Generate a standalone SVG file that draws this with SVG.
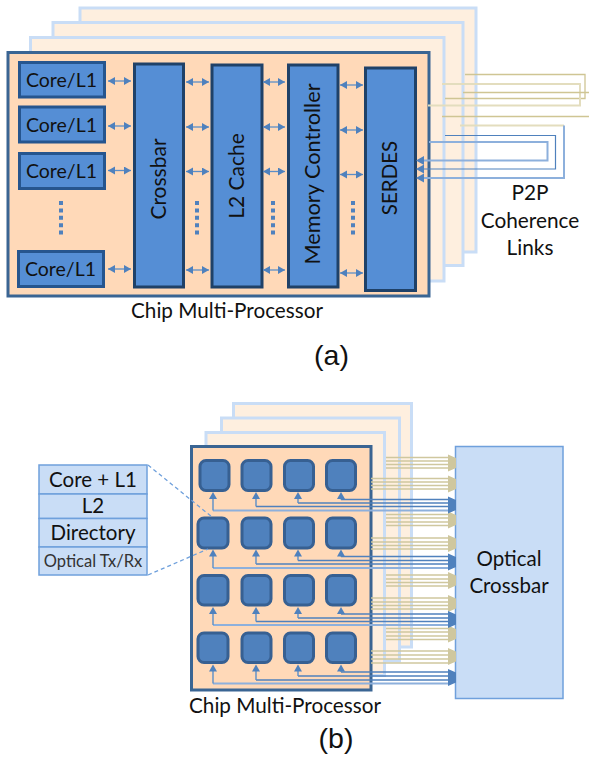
<svg xmlns="http://www.w3.org/2000/svg" width="589" height="760" viewBox="0 0 589 760">
<style>
text{font-family:Lato,"Noto Sans","Liberation Sans",sans-serif;fill:#111;text-anchor:middle}
.sheet{fill:#FEEFDF;stroke:#C9DDF6;stroke-width:3}
.main{fill:#FFD9B8;stroke:#3A6593;stroke-width:3}
.blk{fill:#558ED5;stroke:#1F4168;stroke-width:3}
.core{fill:#558ED5;stroke:#26558E;stroke-width:3}
.tile{fill:#4F81BD;stroke:#376092;stroke-width:3}
.t20{font-size:20.500px}
.t19{font-size:19.500px}
.dbl{stroke:#5B8EC8;stroke-width:1.3;fill:none;marker-start:url(#d);marker-end:url(#d)}
.dots{stroke:#4F81BD;stroke-width:4;stroke-dasharray:4 3.4;fill:none}
.tan1{stroke:#CFC594;stroke-width:1.3;fill:none}
.tan2{stroke:#E3DDBE;stroke-width:2;fill:none}
.bl1{stroke:#4F81BD;stroke-width:1.2;fill:none}
.bl2{stroke:#8DB0DC;stroke-width:2;fill:none}
.up{stroke:#5B8EC8;stroke-width:1.4;fill:none;marker-end:url(#u)}
.tn{stroke:#CFC79E;stroke-width:1.4;fill:none}
.bb{stroke:#4F81BD;stroke-width:1.4;fill:none}
.bc{stroke:#8DB0DC;stroke-width:2;fill:none}
.cell{fill:#C9DDF6;stroke:#6FA0DC;stroke-width:1.5}
.dash{stroke:#6FA0DC;stroke-width:1.3;stroke-dasharray:4 3;fill:none}
</style>
<defs>
<marker id="d" markerUnits="userSpaceOnUse" markerWidth="8" markerHeight="9" refX="7" refY="4" orient="auto-start-reverse"><path d="M0 0L7 4L0 8Z" fill="#4F81BD"/></marker>
<marker id="u" markerUnits="userSpaceOnUse" markerWidth="9" markerHeight="9" refX="1" refY="4" orient="auto"><path d="M0 0L7 4L0 8Z" fill="#4F81BD"/></marker>
</defs>

<g id="sheets-a">
<rect class="sheet" x="80" y="8" width="396" height="244"/>
<rect class="sheet" x="53" y="22.5" width="410" height="243"/>
<rect class="sheet" x="30.500" y="37.500" width="413.500" height="243.500"/>
</g>
<g id="cmp-a"><rect class="main" x="8" y="52.500" width="421" height="243.500"/></g>
<g id="core1"><rect class="core" x="19.500" y="62.500" width="85" height="34.500"/><text class="t19" x="61.500" y="87">Core/L1</text></g>
<g id="core2"><rect class="core" x="19.500" y="107" width="85" height="35"/><text class="t19" x="61.500" y="131.500">Core/L1</text></g>
<g id="core3"><rect class="core" x="19.500" y="153.500" width="85" height="35"/><text class="t19" x="61.500" y="178">Core/L1</text></g>
<g id="core4"><rect class="core" x="18.500" y="251.500" width="85" height="35"/><text class="t19" x="60.500" y="275.500">Core/L1</text></g>
<g id="crossbar"><rect class="blk" x="134.500" y="64" width="49" height="223"/><text style="font-size:21px" transform="translate(166 179) rotate(-90)">Crossbar</text></g>
<g id="l2cache"><rect class="blk" x="212" y="65" width="50" height="222"/><text style="font-size:21px" transform="translate(243.500 176) rotate(-90)">L2 Cache</text></g>
<g id="memctrl"><rect class="blk" x="288.500" y="65" width="49.500" height="222"/><text style="font-size:21.700px" transform="translate(320 174) rotate(-90)">Memory Controller</text></g>
<g id="serdes"><rect class="blk" x="365.500" y="68" width="50" height="222.500"/><text class="t20" transform="translate(397 178) rotate(-90)">SERDES</text></g>
<g id="connectors-a">
<path class="dbl" d="M108 81H131"/><path class="dbl" d="M108 126H131"/><path class="dbl" d="M108 170.500H131"/><path class="dbl" d="M108 269H131"/>
<path class="dbl" d="M186 82H209"/><path class="dbl" d="M186 127H209"/><path class="dbl" d="M186 171.500H209"/><path class="dbl" d="M186 270H209"/>
<path class="dbl" d="M263 82H285"/><path class="dbl" d="M263 127H285"/><path class="dbl" d="M263 171.500H285"/><path class="dbl" d="M263 270H285"/>
<path class="dbl" d="M340 85H363"/><path class="dbl" d="M340 130H363"/><path class="dbl" d="M340 174.500H363"/><path class="dbl" d="M340 273H363"/>
<path class="dots" d="M61 201V236M197 201V236M273 201V236M353 201V236"/>
<path class="tan1" d="M465 74.500H585V98.500H445"/>
<path class="tan2" d="M442 84H580V105.500H428"/>
<path class="tan1" d="M463 92.500H589M442 116.500H589"/>
<path class="tan2" d="M460 125.500H564"/>
<path class="bl2" d="M564 125.500V178H418"/>
<path class="bl1" d="M445 135.500H555.500V169H418"/>
<path class="bl2" d="M429 142H547.500V160.500H418"/>
<path d="M416 160.500L424 156V165ZM416 169L424 164.500V173.500ZM416 178L424 173.500V182.500Z" fill="#4F81BD"/>
</g>
<text class="t20" style="font-size:20.700px" x="227" y="318">Chip Multi-Processor</text>
<text class="t20" style="font-size:20.800px" x="530" y="200">P2P</text>
<text class="t20" style="font-size:20.800px" x="530" y="228">Coherence</text>
<text class="t20" style="font-size:20.800px" x="530" y="255">Links</text>
<text x="331.500" y="365" style="font-family:'Liberation Sans',sans-serif;font-size:28.500px">(a)</text>

<g id="sheets-b">
<rect class="sheet" x="233.500" y="403.500" width="178" height="243.500"/>
<rect class="sheet" x="221.500" y="418" width="178" height="243"/>
<rect class="sheet" x="206" y="432.500" width="178.500" height="243"/>
</g>
<g id="cmp-b"><rect class="main" x="191.500" y="446.500" width="179.500" height="243.500"/></g>
<g id="tiles">
<rect class="tile" x="200" y="460.500" width="29" height="30" rx="6"/><rect class="tile" x="242" y="460.500" width="29" height="30" rx="6"/><rect class="tile" x="284.500" y="460.500" width="29" height="30" rx="6"/><rect class="tile" x="326.500" y="460.500" width="29" height="30" rx="6"/>
<rect class="tile" x="198" y="518" width="30" height="30" rx="6"/><rect class="tile" x="242" y="518" width="29" height="30" rx="6"/><rect class="tile" x="284.500" y="518" width="29" height="30" rx="6"/><rect class="tile" x="326.500" y="518" width="29" height="30" rx="6"/>
<rect class="tile" x="198" y="575.500" width="30" height="29.500" rx="6"/><rect class="tile" x="242" y="575.500" width="29" height="29.500" rx="6"/><rect class="tile" x="284.500" y="575.500" width="29" height="29.500" rx="6"/><rect class="tile" x="326.500" y="575.500" width="29" height="29.500" rx="6"/>
<rect class="tile" x="198" y="633" width="30" height="29.500" rx="6"/><rect class="tile" x="242" y="633" width="29" height="29.500" rx="6"/><rect class="tile" x="284.500" y="633" width="29" height="29.500" rx="6"/><rect class="tile" x="326.500" y="633" width="29" height="29.500" rx="6"/>
</g>
<g id="table">
<rect class="cell" x="39" y="465" width="108" height="29"/><text class="t20" x="93" y="487">Core + L1</text>
<rect class="cell" x="39" y="494" width="108" height="24.500"/><text class="t20" x="93" y="513">L2</text>
<rect class="cell" x="39" y="518.500" width="108" height="28.500"/><text class="t20" x="93" y="540">Directory</text>
<rect class="cell" x="39" y="547" width="108" height="28"/><text x="93" y="567" style="font-size:16.500px;fill:#333">Optical Tx/Rx</text>
</g>
<g id="optical-crossbar"><rect class="cell" x="455.500" y="446.500" width="107.500" height="252"/><text class="t20" x="509" y="566">Optical</text><text class="t20" x="509" y="593">Crossbar</text></g>
<g id="connectors-b">
<path class="dash" d="M148 465L212 517M148 575L208 549"/>
<g id="tan-links">
<path class="tn" d="M386 457.500H450M386 461H450M386 464.500H450M386 468H450"/>
<path class="tn" d="M371 478.500H450M371 482H450M371 485.500H450M371 489H450"/>
<path class="tn" d="M386 514.500H450M386 518H450M386 522H450M386 525.500H450"/>
<path class="tn" d="M371 538H450M371 542H450M371 545.500H450M371 549H450"/>
<path class="tn" d="M386 575H450M386 579H450M386 582.500H450M386 586H450"/>
<path class="tn" d="M371 598H450M371 602H450M371 605.500H450M371 609H450"/>
<path class="tn" d="M386 628.500H450M386 632H450M386 636H450M386 639.500H450"/>
<path class="tn" d="M371 651H450M371 655H450M371 659H450M371 663H450"/>
<path fill="#CFC79E" d="M448 454.500L456 458V468L448 471.500ZM448 475.500L456 479V489L448 492.500ZM448 511.500L456 515V525L448 528.500ZM448 535L456 538.500V548.500L448 552ZM448 572L456 575.500V585.500L448 589ZM448 595L456 598.500V608.500L448 612ZM448 625.500L456 629V639L448 642.500ZM448 648L456 651.500V661.500L448 665Z"/>
</g>
<g id="blue-links">
<path class="bb" d="M341 499.500H450"/><path class="bb" d="M298 503H450"/><path class="bb" d="M256 506.500H450"/><path class="bc" d="M213 510.500H450"/>
<path class="bb" d="M341 556.500H450"/><path class="bb" d="M298 560.500H450"/><path class="bb" d="M256 564H450"/><path class="bc" d="M213 568H450"/>
<path class="bb" d="M341 614H450"/><path class="bb" d="M298 618H450"/><path class="bb" d="M256 621.500H450"/><path class="bc" d="M213 625H450"/>
<path class="bb" d="M341 672H450"/><path class="bb" d="M298 676H450"/><path class="bb" d="M256 680H450"/><path class="bc" d="M213 683.500H450"/>
<path fill="#4F81BD" d="M448 496.500L456 500V510L448 513.500ZM448 553.500L456 557V567L448 570.500ZM448 611L456 614.500V624.500L448 628ZM448 669L456 672.500V682.500L448 686Z"/>
<path class="up" d="M341 499.500V498"/><path class="up" d="M298 503V498"/><path class="up" d="M256 506.500V498"/><path class="up" d="M213 510.500V498"/>
<path class="up" d="M341 556.500V555.500"/><path class="up" d="M298 560.500V555.500"/><path class="up" d="M256 564V555.500"/><path class="up" d="M213 568V555.500"/>
<path class="up" d="M341 614V613"/><path class="up" d="M298 618V613"/><path class="up" d="M256 621.500V613"/><path class="up" d="M213 625V613"/>
<path class="up" d="M341 672V670.500"/><path class="up" d="M298 676V670.500"/><path class="up" d="M256 680V670.500"/><path class="up" d="M213 683.500V670.500"/>
</g>
</g>
<text class="t20" style="font-size:20.700px" x="285" y="713">Chip Multi-Processor</text>
<text x="336" y="748" style="font-family:'Liberation Sans',sans-serif;font-size:28.500px">(b)</text>
</svg>
